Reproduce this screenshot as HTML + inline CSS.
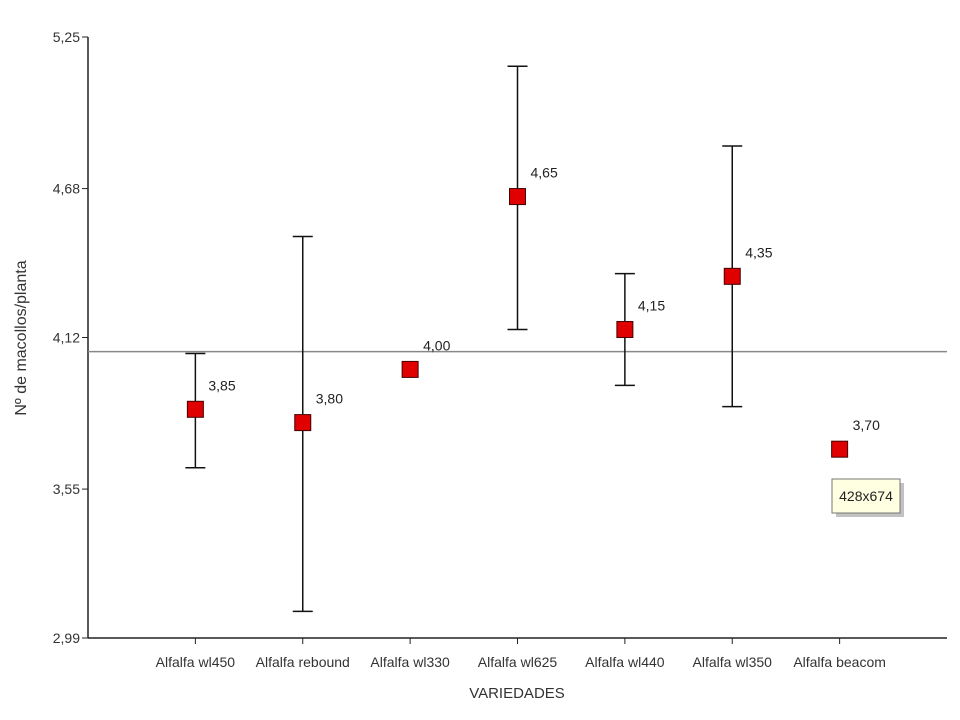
<!DOCTYPE html>
<html><head><meta charset="utf-8"><style>
body{margin:0;background:#fff;}
svg{display:block;font-family:"Liberation Sans",sans-serif;}
</style></head><body>
<svg id="chart" width="960" height="720" xmlns="http://www.w3.org/2000/svg"></svg>
<script>
const categories=["Alfalfa wl450","Alfalfa rebound","Alfalfa wl330","Alfalfa wl625","Alfalfa wl440","Alfalfa wl350","Alfalfa beacom"];
const means=[3.85,3.80,4.00,4.65,4.15,4.35,3.70];
const upper=[4.06,4.50,null,5.14,4.36,4.84,null];
const lower=[3.63,3.09,null,4.15,3.94,3.86,null];
const valueLabels=["3,85","3,80","4,00","4,65","4,15","4,35","3,70"];
const yTicks=[2.99,3.55,4.12,4.68,5.25];
const yTickLabels=["2,99","3,55","4,12","4,68","5,25"];
const refLine=4.067;

const NS="http://www.w3.org/2000/svg";
const svg=document.getElementById('chart');
const X0=88,X1=947,Y0=638,Y1=37,ymin=2.99,ymax=5.25;
const y=v=>Y0-(v-ymin)/(ymax-ymin)*(Y0-Y1);
const step=(X1-X0)/8;
const x=i=>X0+(i+1)*step;
function el(t,a,p){const e=document.createElementNS(NS,t);for(const k in a)e.setAttribute(k,a[k]);(p||svg).appendChild(e);return e;}

const ax=el('g',{});


el('line',{x1:X0,y1:Y1,x2:X0,y2:Y0,stroke:'#222','stroke-width':1.5},ax);
el('line',{x1:X0,y1:Y0,x2:X1,y2:Y0,stroke:'#222','stroke-width':1.5},ax);
yTicks.forEach((v,i)=>{
  el('line',{x1:X0-6,y1:y(v),x2:X0,y2:y(v),stroke:'#222'},ax);
  const t=el('text',{x:X0-8,y:y(v)+5,'text-anchor':'end','font-size':14,fill:'#333'},ax);
  t.textContent=yTickLabels[i];
  
  
});
categories.forEach((c,i)=>{
  el('line',{x1:x(i),y1:Y0,x2:x(i),y2:Y0+6,stroke:'#222'},ax);
  const t=el('text',{x:x(i),y:667,'text-anchor':'middle','font-size':14,fill:'#333'},ax);
  t.textContent=c;
  
  
});
const xt=el('text',{x:517,y:698,'text-anchor':'middle','font-size':15,fill:'#333'});
xt.textContent="VARIEDADES";


const yt=el('text',{x:0,y:0,'text-anchor':'middle','font-size':16,fill:'#333',transform:'translate(26,338) rotate(-90)'});
yt.textContent="Nº de macollos/planta";



const rl=el('line',{x1:X0,y1:y(refLine),x2:X1,y2:y(refLine),stroke:'#888','stroke-width':1.5});



categories.forEach((c,i)=>{
  const g=el('g',{});
  
  
  const cx=x(i);
  if(upper[i]!=null){
    el('line',{x1:cx,y1:y(upper[i]),x2:cx,y2:y(lower[i]),stroke:'#111','stroke-width':1.5},g);
    el('line',{x1:cx-10,y1:y(upper[i]),x2:cx+10,y2:y(upper[i]),stroke:'#111','stroke-width':1.5},g);
    el('line',{x1:cx-10,y1:y(lower[i]),x2:cx+10,y2:y(lower[i]),stroke:'#111','stroke-width':1.5},g);
  }
  el('rect',{x:cx-8,y:y(means[i])-8,width:16,height:16,fill:'#e00000',stroke:'#400','stroke-width':1},g);
  const t=el('text',{x:cx+13,y:y(means[i])-19,'font-size':14,fill:'#222'},g);
  t.textContent=valueLabels[i];
});

const tip=el('g',{});


el('rect',{x:836,y:483,width:68,height:34,fill:'#999',opacity:0.6},tip);
el('rect',{x:832,y:479,width:68,height:34,fill:'#ffffe1',stroke:'#777'},tip);
const tt=el('text',{x:866,y:501,'text-anchor':'middle','font-size':14,fill:'#222'},tip);
tt.textContent="428x674";
</script>
</body></html>
